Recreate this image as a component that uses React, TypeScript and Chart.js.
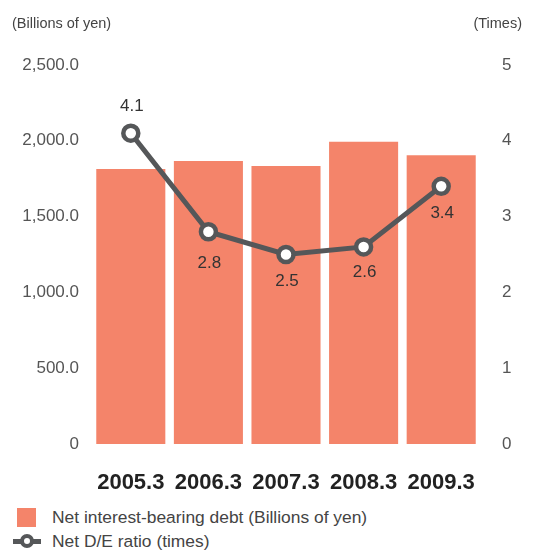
import React, { useEffect, useRef } from "react";
import { Chart, registerables } from "chart.js";

Chart.register(...registerables);

const categories = ["2005.3", "2006.3", "2007.3", "2008.3", "2009.3"];
const debtValues = [1814, 1867, 1834, 1994, 1904];
const ratioValues = [4.1, 2.8, 2.5, 2.6, 3.4];
const leftTicks = [0, 500, 1000, 1500, 2000, 2500];
const rightTicks = [0, 1, 2, 3, 4, 5];

const FONT = "'Liberation Sans', Arial, sans-serif";
const BAR_COLOR = "#F4846A";
const LINE_COLOR = "#555759";
const LABEL_OFFSETS = [-27, 32, 27, 25, 27];

const labelPlugin = {
  id: "ratioLabels",
  afterDatasetsDraw(chart: any) {
    const meta = chart.getDatasetMeta(1);
    const ctx = chart.ctx;
    ctx.save();
    ctx.font = `17px ${FONT}`;
    ctx.fillStyle = "#333333";
    ctx.textAlign = "center";
    ctx.textBaseline = "middle";
    meta.data.forEach((pt: any, i: number) => {
      ctx.fillText(ratioValues[i].toFixed(1), pt.x + 1, pt.y + LABEL_OFFSETS[i]);
    });
    ctx.restore();
  },
};

export default function App() {
  const ref = useRef<HTMLCanvasElement>(null);
  useEffect(() => {
    const chart = new Chart(ref.current!, {
      type: "bar",
      data: {
        labels: categories,
        datasets: [
          {
            type: "bar",
            data: debtValues,
            backgroundColor: BAR_COLOR,
            yAxisID: "y",
            categoryPercentage: 0.89,
            barPercentage: 1,
            order: 2,
          },
          {
            type: "line",
            data: ratioValues,
            yAxisID: "y1",
            borderColor: LINE_COLOR,
            borderWidth: 5,
            pointRadius: 7.5,
            pointBorderWidth: 4.5,
            pointBackgroundColor: "#ffffff",
            pointBorderColor: LINE_COLOR,
            order: 1,
          } as any,
        ],
      },
      options: {
        animation: false,
        responsive: false,
        layout: { padding: { top: 65, left: 0, right: 0, bottom: 0 } },
        plugins: { legend: { display: false }, tooltip: { enabled: false } },
        scales: {
          x: {
            grid: { display: false },
            border: { display: false },
            ticks: {
              color: "#222222",
              font: { family: FONT, size: 22, weight: "bold" },
              padding: 18,
            },
            afterFit(scale: any) {
              scale.height = 56;
            },
          },
          y: {
            position: "left",
            min: 0,
            max: 2500,
            afterBuildTicks(scale: any) {
              scale.ticks = leftTicks.map((v) => ({ value: v }));
            },
            grid: { display: false, drawTicks: false },
            border: { display: false },
            ticks: {
              color: "#555555",
              font: { family: FONT, size: 17 },
              padding: 13,
              callback: (v: any) =>
                v === 0
                  ? "0"
                  : Number(v).toLocaleString("en-US", {
                      minimumFractionDigits: 1,
                      maximumFractionDigits: 1,
                    }),
            },
            afterFit(scale: any) {
              scale.width = 92;
            },
          },
          y1: {
            position: "right",
            min: 0,
            max: 5,
            afterBuildTicks(scale: any) {
              scale.ticks = rightTicks.map((v) => ({ value: v }));
            },
            grid: { display: false, drawTicks: false },
            border: { display: false },
            ticks: {
              color: "#555555",
              font: { family: FONT, size: 17 },
              padding: 22,
            },
            afterFit(scale: any) {
              scale.width = 53;
            },
          },
        },
      },
      plugins: [labelPlugin],
    });
    return () => chart.destroy();
  }, []);

  const textStyle: React.CSSProperties = {
    position: "absolute",
    fontFamily: FONT,
    fontSize: 14.5,
    color: "#444444",
    whiteSpace: "nowrap",
  };
  const legendText: React.CSSProperties = {
    position: "absolute",
    fontFamily: FONT,
    fontSize: 17.4,
    color: "#444444",
    whiteSpace: "nowrap",
    lineHeight: "18px",
  };

  return (
    <div style={{ position: "absolute", left: 0, top: 0, width: 533, height: 550, background: "#fff" }}>
      <canvas ref={ref} width={533} height={500} style={{ position: "absolute", left: 0, top: 0 }} />
      <div style={{ ...textStyle, left: 12, top: 15 }}>(Billions of yen)</div>
      <div style={{ ...textStyle, right: 11, top: 15 }}>(Times)</div>
      <div style={{ position: "absolute", left: 17, top: 508, width: 19, height: 19, background: BAR_COLOR }} />
      <div style={{ ...legendText, left: 52, top: 508 }}>Net interest-bearing debt (Billions of yen)</div>
      <div style={{ position: "absolute", left: 13, top: 539, width: 28, height: 5, background: LINE_COLOR }} />
      <div
        style={{
          position: "absolute",
          left: 20,
          top: 534,
          width: 6,
          height: 6,
          borderRadius: "50%",
          background: "#fff",
          border: `4px solid ${LINE_COLOR}`,
        }}
      />
      <div style={{ ...legendText, left: 52, top: 532 }}>Net D/E ratio (times)</div>
    </div>
  );
}
